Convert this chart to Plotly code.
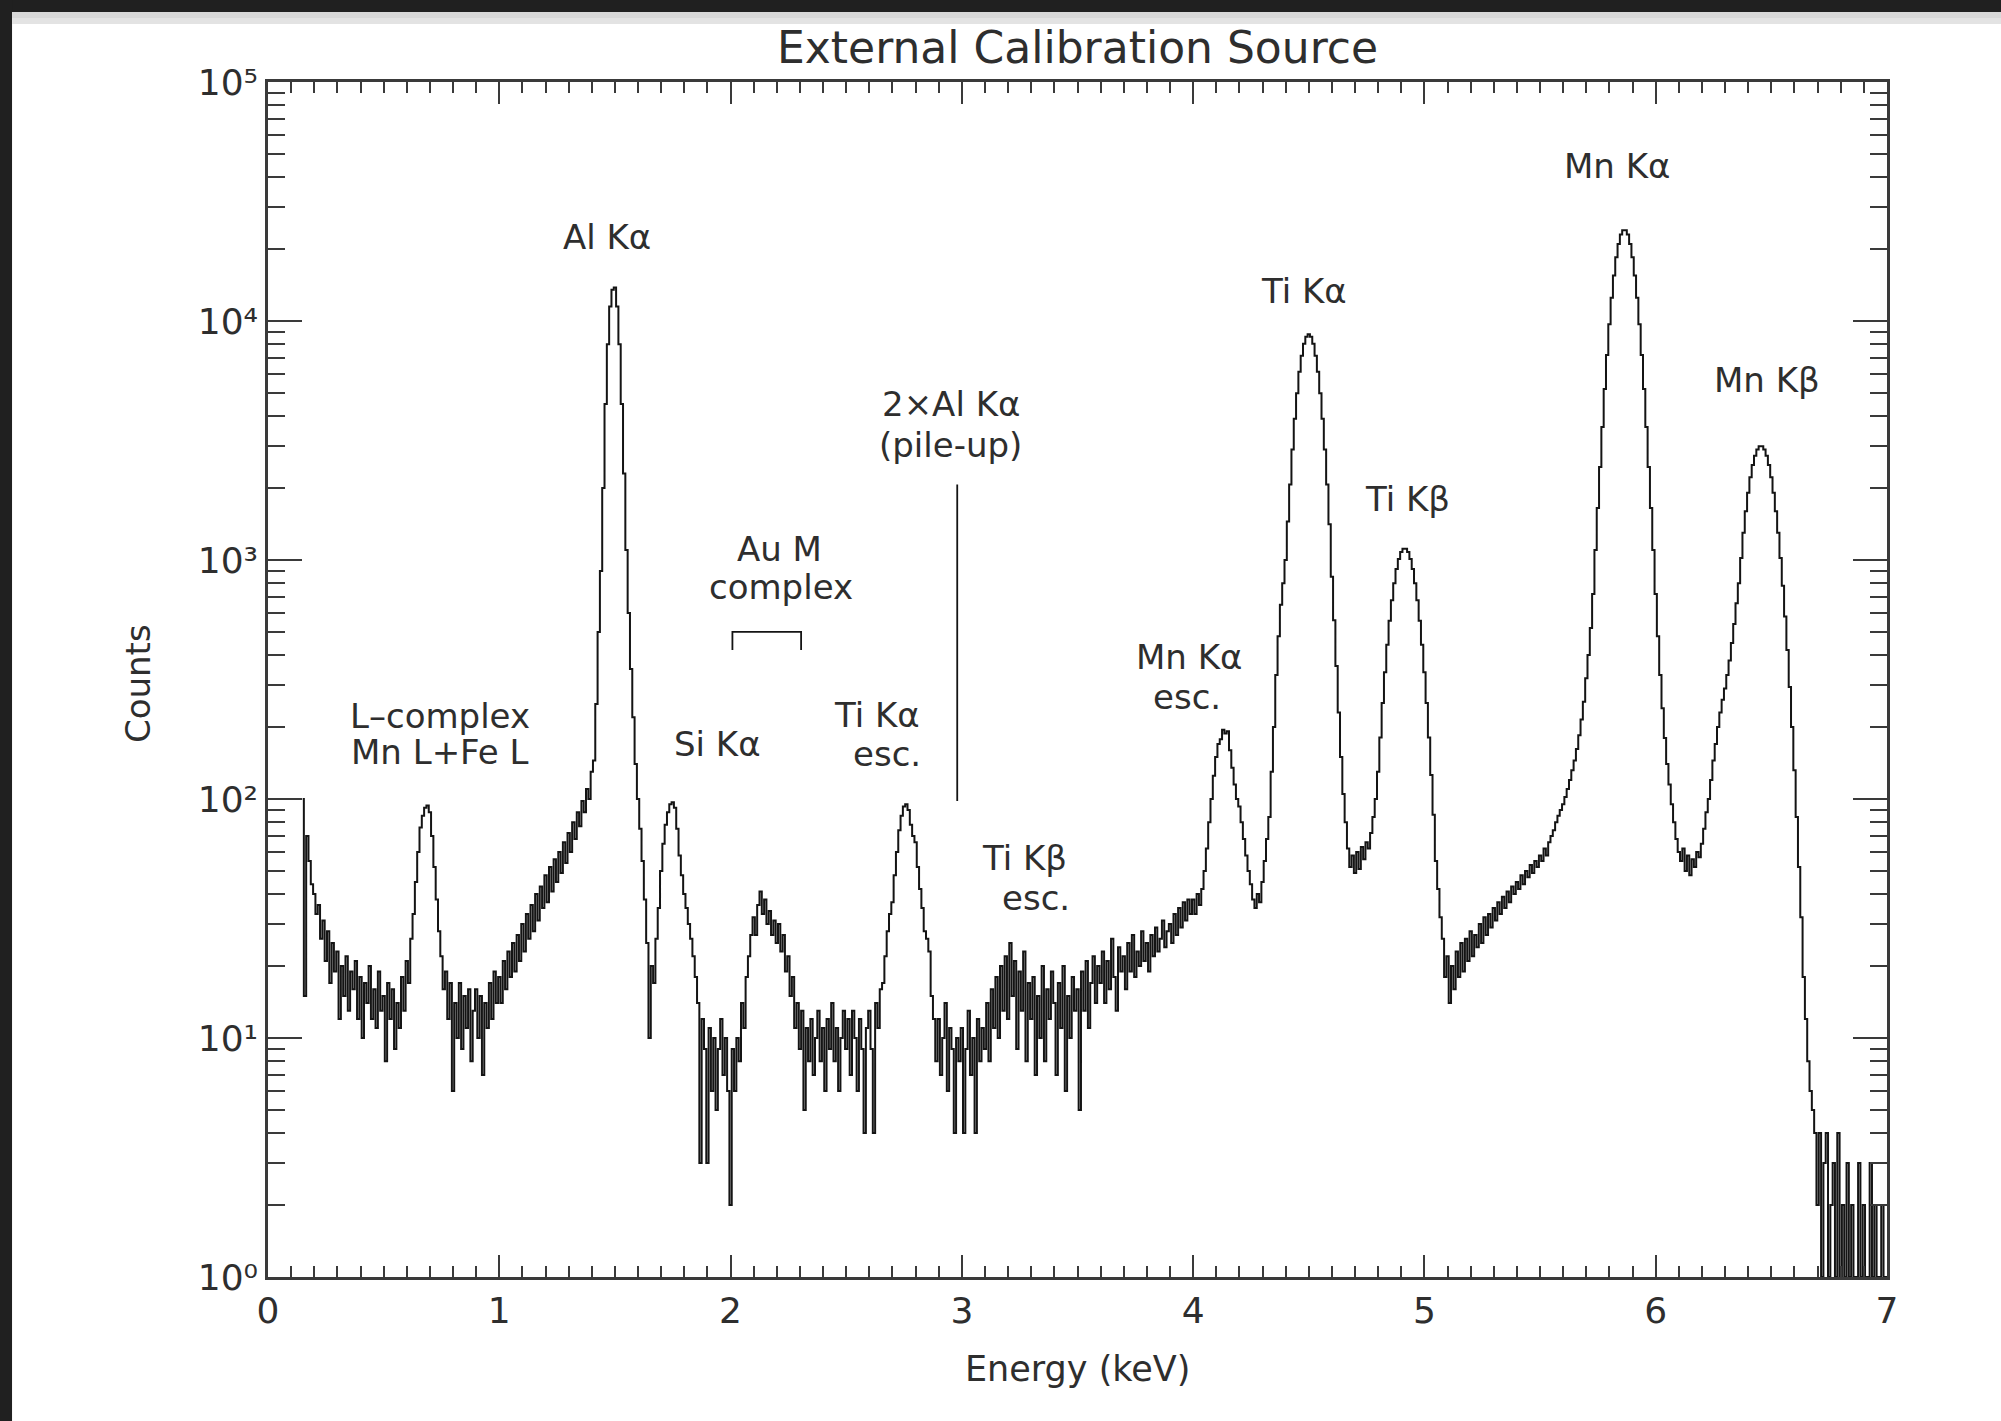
import numpy as np
import plotly.graph_objects as go

# ---------------- data ----------------
E_START = 0.15   # keV, first channel
E_STEP = 0.01    # keV per channel

counts_0 = [100, 15, 70, 55, 44,                      # 0.15-0.19
            40, 33, 36, 26, 31, 21, 28, 17, 25, 19,   # 0.20
            23, 12, 20, 15, 22, 13, 19, 16, 21, 12,   # 0.30
            18, 10, 17, 14, 20, 12, 16, 11, 19, 13,   # 0.40
            15, 8, 17, 12, 16, 9, 14, 11, 18, 13,     # 0.50
            21, 17, 26, 33, 45, 60, 76, 85, 92, 94,   # 0.60
            88, 70, 52, 38, 28, 22, 16, 19, 12, 17,   # 0.70
            6, 14, 10, 17, 9, 15, 11, 16, 8, 13,      # 0.80
            16, 10, 15, 7, 14, 11, 17, 12, 19, 14]    # 0.90
counts_1 = [18, 14, 21, 16, 23, 18, 25, 19, 27, 21,   # 1.00
            30, 23, 33, 26, 36, 28, 40, 31, 43, 35,   # 1.10
            48, 37, 52, 41, 56, 45, 60, 49, 66, 54,   # 1.20
            72, 60, 80, 68, 88, 77, 98, 88, 110, 100, # 1.30
            130, 145, 250, 500, 900, 2000, 4500, 8000, 11500, 13500,  # 1.40
            13800, 11500, 8000, 4500, 2300, 1100, 600, 350, 220, 140, # 1.50
            100, 75, 55, 38, 25, 10, 20, 17, 26, 35,  # 1.60
            50, 65, 78, 88, 95, 97, 92, 75, 58, 48,   # 1.70
            40, 35, 30, 26, 22, 18, 14, 3, 12, 9,     # 1.80
            3, 11, 6, 10, 5, 9, 12, 7, 10, 6]         # 1.90
counts_2 = [2, 9, 6, 10, 8, 14, 11, 18, 22, 27,       # 2.00
            32, 27, 36, 41, 33, 38, 30, 34, 27, 31,   # 2.10
            25, 30, 23, 27, 19, 22, 15, 18, 11, 14,   # 2.20
            9, 13, 5, 11, 8, 12, 7, 10, 13, 8,        # 2.30
            11, 6, 12, 9, 14, 8, 11, 6, 10, 13,       # 2.40
            9, 12, 7, 13, 10, 6, 12, 9, 4, 11,        # 2.50
            13, 9, 4, 14, 11, 16, 17, 22, 28, 33,     # 2.60
            37, 48, 60, 74, 85, 93, 95, 90, 78, 70,   # 2.70
            66, 52, 42, 35, 28, 26, 23, 15, 12, 8,    # 2.80
            12, 7, 10, 14, 6, 11, 9, 4, 10, 8]        # 2.90
counts_3 = [11, 4, 9, 13, 7, 10, 4, 12, 8, 11,        # 3.00
            9, 14, 8, 16, 11, 18, 10, 20, 13, 22,     # 3.10
            12, 25, 15, 21, 9, 19, 13, 23, 8, 17,     # 3.20
            12, 18, 7, 15, 10, 20, 8, 16, 12, 19,     # 3.30
            14, 7, 17, 11, 20, 6, 15, 10, 18, 13,     # 3.40
            16, 5, 19, 13, 21, 11, 17, 22, 14, 20,    # 3.50
            17, 23, 14, 21, 16, 26, 18, 13, 24, 19,   # 3.60
            22, 16, 25, 19, 27, 18, 23, 20, 28, 21,   # 3.70
            25, 19, 27, 22, 29, 23, 26, 31, 24, 28,   # 3.80
            30, 25, 33, 27, 35, 29, 37, 31, 38, 33]   # 3.90
counts_4 = [38, 33, 40, 36, 42, 50, 62, 80, 100, 125, # 4.00
            150, 170, 178, 195, 188, 192, 160, 135, 115, 100,  # 4.10
            93, 80, 68, 58, 50, 44, 38, 35, 40, 37,   # 4.20
            45, 55, 68, 84, 130, 200, 330, 480, 650, 800,      # 4.30
            1000, 1450, 2070, 2900, 3900, 4990, 6130, 7150, 8040, 8600,  # 4.40
            8800, 8600, 8040, 7150, 6130, 4990, 3900, 2900, 2070, 1410,  # 4.50
            850, 560, 360, 230, 150, 105, 80, 62, 52, 58,      # 4.60
            49, 60, 51, 63, 56, 66, 62, 72, 84, 100,  # 4.70
            130, 181, 252, 339, 442, 557, 679, 800, 916, 1010,  # 4.80
            1080, 1115, 1115, 1080, 1010, 916, 800, 679, 557, 442]  # 4.90
counts_5 = [339, 252, 181, 126, 86, 55, 42, 32, 26, 18,  # 5.00
            22, 14, 20, 16, 23, 18, 25, 19, 26, 21,   # 5.10
            28, 22, 27, 24, 30, 25, 32, 27, 33, 29,   # 5.20
            35, 31, 37, 33, 39, 35, 41, 37, 43, 40,   # 5.30
            45, 42, 48, 44, 50, 47, 53, 49, 55, 52,   # 5.40
            58, 55, 62, 58, 66, 70, 74, 80, 85, 90,   # 5.50
            95, 102, 110, 120, 132, 145, 162, 185, 215, 255,  # 5.60
            320, 400, 520, 720, 1100, 1650, 2450, 3600, 5200, 7200,  # 5.70
            9700, 12500, 15500, 18500, 21000, 23000, 24000, 24000, 23000, 21000,  # 5.80
            18500, 15500, 12500, 9700, 7200, 5200, 3600, 2450, 1650, 1100]  # 5.90
counts_6 = [720, 480, 330, 240, 180, 140, 115, 95, 80, 68,  # 6.00
            60, 55, 62, 50, 58, 48, 56, 52, 60, 57,   # 6.10
            65, 75, 88, 100, 120, 145, 170, 200, 230, 260,  # 6.20
            290, 330, 380, 450, 540, 660, 800, 1020, 1300, 1600,  # 6.30
            1910, 2220, 2500, 2730, 2900, 2990, 2990, 2900, 2730, 2500,  # 6.40
            2220, 1910, 1600, 1300, 1020, 780, 580, 420, 294, 200,  # 6.50
            132, 84, 52, 32, 18, 12, 8, 6, 5, 4,      # 6.60
            2, 4, 1, 3, 4, 1, 2, 3, 1, 4,             # 6.70
            1, 2, 1, 3, 1, 2, 1, 1, 3, 1,             # 6.80
            2, 1, 1, 3, 1, 2, 1, 1, 2, 1, 1]          # 6.90-7.00

# pile-up marker line and Au M bracket
pileup_x = [2.98, 2.98]
pileup_y = [98, 2070]
bracket_x = [2.008, 2.008, 2.305, 2.305]
bracket_y = [420, 500, 500, 420]

# labels: (text, x keV, log10 counts)
label_text = ["Al Kα", "Mn Kα", "Ti Kα", "Mn Kβ",
              "2×Al Kα", "(pile-up)", "Ti Kβ", "Au M", "complex",
              "Mn Kα", "esc.", "L–complex", "Mn L+Fe L", "Si Kα",
              "Ti Kα", "esc.", "Ti Kβ", "esc."]
label_x = [1.467, 5.831, 4.480, 6.482, 2.951, 2.951, 4.926, 2.212, 2.218,
           3.983, 3.972, 0.745, 0.745, 1.942, 2.631, 2.675, 3.271, 3.321]
label_logy = [4.35, 4.649, 4.126, 3.752, 3.651, 3.480, 3.256, 3.047, 2.887,
              2.594, 2.428, 2.348, 2.198, 2.231, 2.353, 2.188, 1.755, 1.585]

x_ticks = [0, 1, 2, 3, 4, 5, 6, 7]
y_ticks = [1, 10, 100, 1000, 10000, 100000]
y_ticktext = ["10⁰", "10¹", "10²", "10³", "10⁴", "10⁵"]

# ---------------- build ----------------
counts = counts_0 + counts_1 + counts_2 + counts_3 + counts_4 + counts_5 + counts_6
energy = np.round(E_START + E_STEP * np.arange(len(counts)), 3)

FONT = "DejaVu Sans"
INK = "#141414"
TXT = "#2e2e2e"
AX = "#3a3a3a"

fig = go.Figure()
fig.add_trace(go.Scatter(x=energy, y=counts, mode="lines",
                         line=dict(color=INK, width=2.0, shape="hvh"),
                         hoverinfo="skip", showlegend=False))
fig.add_trace(go.Scatter(x=pileup_x, y=pileup_y, mode="lines",
                         line=dict(color=INK, width=1.8), showlegend=False))
fig.add_trace(go.Scatter(x=bracket_x, y=bracket_y, mode="lines",
                         line=dict(color=INK, width=1.8), showlegend=False))

for t, xv, ly in zip(label_text, label_x, label_logy):
    fig.add_annotation(x=xv, y=ly, xref="x", yref="y", text=t, showarrow=False,
                       font=dict(family=FONT, size=34, color=TXT),
                       xanchor="center", yanchor="middle")

fig.add_annotation(text="External Calibration Source", xref="paper", yref="paper",
                   x=0.5, y=1.029, showarrow=False, xanchor="center", yanchor="middle",
                   font=dict(family=FONT, size=44, color=TXT))
fig.add_annotation(text="Energy (keV)", xref="paper", yref="paper",
                   x=0.5, y=-0.077, showarrow=False, xanchor="center", yanchor="middle",
                   font=dict(family=FONT, size=35, color=TXT))
fig.add_annotation(text="Counts", xref="paper", yref="paper", textangle=-90,
                   x=-0.0803, y=0.497, showarrow=False, xanchor="center", yanchor="middle",
                   font=dict(family=FONT, size=34, color=TXT))

# dark frame of the screenshot
shapes = [
    dict(type="rect", xref="paper", yref="paper", x0=-0.2, x1=1.1, y0=1.0586, y1=1.09,
         fillcolor="#202020", line=dict(width=0), layer="above"),
    dict(type="rect", xref="paper", yref="paper", x0=-0.2, x1=-0.1581, y0=-0.15, y1=1.09,
         fillcolor="#202020", line=dict(width=0), layer="above"),
    dict(type="rect", xref="paper", yref="paper", x0=-0.1581, x1=1.1, y0=1.0536, y1=1.0586,
         fillcolor="#d8d8d8", line=dict(width=0), layer="above"),
    dict(type="rect", xref="paper", yref="paper", x0=-0.1581, x1=1.1, y0=1.0485, y1=1.0536,
         fillcolor="#e3e3e3", line=dict(width=0), layer="above"),
]

minor_y = [m * 10 ** d for d in range(5) for m in range(2, 10)]

fig.update_layout(
    width=2001, height=1421,
    margin=dict(l=268, r=114, t=82, b=144),
    paper_bgcolor="white", plot_bgcolor="white",
    showlegend=False, shapes=shapes,
    font=dict(family=FONT, color=TXT),
    xaxis=dict(range=[0, 7], tickvals=x_ticks, ticks="inside", ticklen=22,
               tickwidth=2, tickcolor=AX, showline=True, linewidth=2.5, linecolor=AX,
               mirror="allticks", showgrid=False, zeroline=False,
               tickfont=dict(family=FONT, size=36, color=TXT),
               minor=dict(ticks="inside", ticklen=11, tickwidth=2, tickcolor=AX,
                          dtick=0.1, tick0=0, showgrid=False)),
    yaxis=dict(type="log", range=[0, 5], tickvals=y_ticks, ticktext=y_ticktext,
               ticks="inside", ticklen=34, tickwidth=2, tickcolor=AX,
               showline=True, linewidth=2.5, linecolor=AX, mirror="allticks",
               showgrid=False, zeroline=False,
               tickfont=dict(family=FONT, size=36, color=TXT),
               minor=dict(ticks="inside", ticklen=17, tickwidth=2, tickcolor=AX,
                          tickvals=minor_y, showgrid=False)),
)

fig.write_html("out.html")
